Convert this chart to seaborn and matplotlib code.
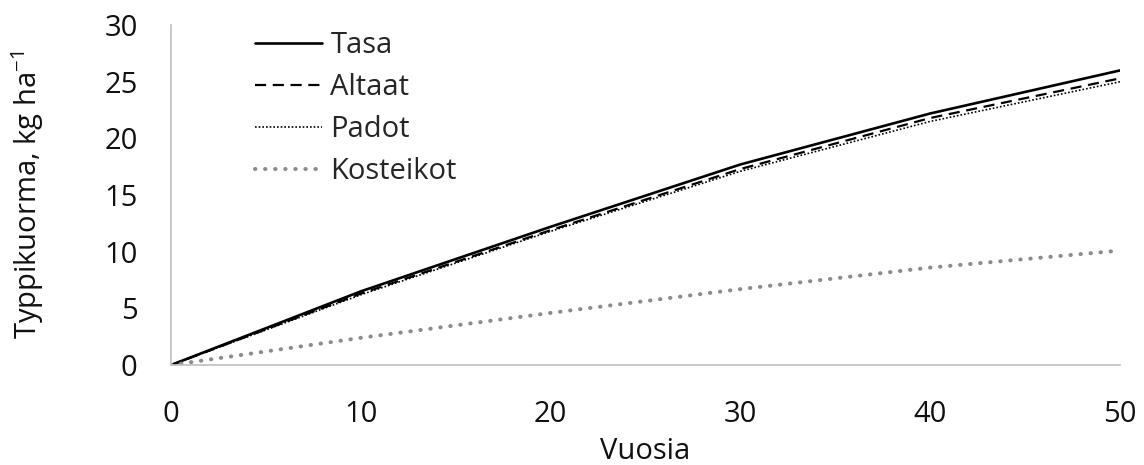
import seaborn as sns
import matplotlib.pyplot as plt
import pandas as pd

years = [0, 10, 20, 30, 40, 50]
tasa = [0, 6.5, 12.2, 17.7, 22.2, 26.0]
altaat = [0, 6.3, 11.9, 17.3, 21.8, 25.3]
padot = [0, 6.2, 11.8, 17.1, 21.5, 25.0]
kosteikot = [0, 2.4, 4.6, 6.7, 8.6, 10.1]

series_names = ["Tasa", "Altaat", "Padot", "Kosteikot"]
series_vals = [tasa, altaat, padot, kosteikot]

sns.set_style("white")
plt.rcParams['font.family'] = ['Open Sans', 'DejaVu Sans']
plt.rcParams['mathtext.fontset'] = 'custom'
plt.rcParams['mathtext.rm'] = 'Open Sans'
plt.rcParams['mathtext.default'] = 'regular'

styles = {
    "Tasa": dict(color="black", lw=1.9, ls="-"),
    "Altaat": dict(color="black", lw=1.6, ls=(0, (5, 3))),
    "Padot": dict(color="black", lw=1.2, ls=(0, (1, 1.2))),
    "Kosteikot": dict(color="#8c8c8c", lw=2.9, ls=(0, (0.1, 2.4)),
                      dash_capstyle="round"),
}

df = pd.DataFrame({
    "Vuosia": years * len(series_names),
    "value": [v for vals in series_vals for v in vals],
    "series": [n for n in series_names for _ in years],
})

fig = plt.figure(figsize=(11.44, 4.65), dpi=100)
ax = fig.add_axes([0.1495, 0.215, 0.8295, 0.731])

for name in series_names:
    st = dict(styles[name])
    ls = st.pop("ls")
    sns.lineplot(data=df[df.series == name], x="Vuosia", y="value",
                 ax=ax, label=name, linestyle=ls, **st)

ax.set_xlim(0, 50)
ax.set_ylim(0, 30)
ax.set_xticks(range(0, 51, 10))
ax.set_yticks(range(0, 31, 5))
ax.tick_params(labelsize=21, colors="#111111", length=0)
ax.tick_params(axis="x", pad=25)
ax.tick_params(axis="y", pad=24)
ax.set_xlabel("Vuosia", fontsize=21, labelpad=6, color="#111111")
ax.set_ylabel("Typpikuorma, kg ha$^{-1}$", fontsize=21, labelpad=42,
              color="#111111")

for side in ["top", "right"]:
    ax.spines[side].set_visible(False)
for side in ["left", "bottom"]:
    ax.spines[side].set_color("#bfbfbf")
    ax.spines[side].set_linewidth(1.2)

ax.legend(loc="upper left", bbox_to_anchor=(0.088, 0.982), frameon=False,
          fontsize=21, handlelength=2.3, handletextpad=0.3,
          labelspacing=0.44, borderaxespad=0, borderpad=0)

fig.savefig("out.png", dpi=100)
